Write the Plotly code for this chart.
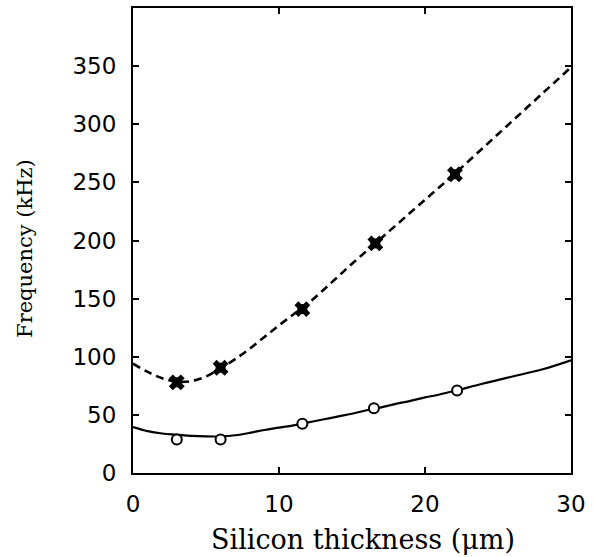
import plotly.graph_objects as go

# Measured resonant frequencies (kHz) vs silicon thickness (um)
mode2_thk = [3.0, 6.0, 11.6, 16.6, 22.05]
mode2_freq = [78, 90.5, 141, 197.5, 257]
mode1_thk = [3.0, 6.0, 11.6, 16.5, 22.2]
mode1_freq = [28.8, 28.8, 42.4, 55.7, 70.9]

# Model curves
curve_thk = [0, 1, 2, 3, 4, 5, 6, 7, 8, 9, 10, 11, 12, 13, 14, 15, 16, 17, 18,
             19, 20, 21, 22, 24, 26, 28, 30]
mode2_curve = [94, 87, 81.5, 78.5, 79, 83, 90, 98, 107, 117, 127, 136.5, 146,
               157, 168.5, 180, 191, 202, 213, 224, 235, 246, 257, 280, 303,
               326, 349]
mode1_curve = [39.5, 36, 34, 33, 32, 31.5, 31.5, 32.5, 34.5, 37, 39, 41, 43.5,
               46, 48.5, 51, 54, 56.5, 59.5, 62, 65, 67.5, 70.5, 77, 83, 89, 97]

x_ticks = [0, 10, 20, 30]
y_ticks = [0, 50, 100, 150, 200, 250, 300, 350]

fig = go.Figure()

fig.add_trace(go.Scatter(
    x=curve_thk, y=mode2_curve, mode="lines",
    line=dict(color="black", width=2.6, dash="8px,5px", shape="spline"),
    hoverinfo="skip"))
fig.add_trace(go.Scatter(
    x=curve_thk, y=mode1_curve, mode="lines",
    line=dict(color="black", width=2.2, shape="spline"),
    hoverinfo="skip"))

fig.add_trace(go.Scatter(
    x=mode2_thk, y=mode2_freq, mode="markers",
    marker=dict(symbol="square", size=10, color="black")))
fig.add_trace(go.Scatter(
    x=mode2_thk, y=mode2_freq, mode="markers",
    marker=dict(symbol="x", size=14, color="black",
                line=dict(width=0))))
fig.add_trace(go.Scatter(
    x=mode1_thk, y=mode1_freq, mode="markers",
    marker=dict(symbol="circle", size=10, color="white",
                line=dict(color="black", width=2))))

axis_common = dict(
    showline=True, linecolor="black", linewidth=2, mirror="ticks",
    ticks="inside", ticklen=6, tickwidth=1.5, tickcolor="black",
    showgrid=False, zeroline=False,
    tickfont=dict(family="DejaVu Sans", size=23, color="black"),
)

fig.update_xaxes(range=[0, 30], tickvals=x_ticks, ticklabelstandoff=9,
                 **axis_common)
fig.update_yaxes(range=[0, 400], tickvals=y_ticks, ticklabelstandoff=10,
                 **axis_common)

fig.add_annotation(
    text="Silicon thickness (μm)", xref="paper", yref="paper",
    x=0.525, y=-0.1435, xanchor="center", yanchor="middle", showarrow=False,
    font=dict(family="DejaVu Serif", size=27, color="black"))
fig.add_annotation(
    text="Frequency (kHz)", xref="paper", yref="paper",
    x=-0.2466, y=0.484, xanchor="center", yanchor="middle", showarrow=False,
    textangle=-90,
    font=dict(family="DejaVu Serif", size=21, color="black"))

fig.update_layout(
    width=593, height=557,
    margin=dict(l=133, r=22, t=6, b=84),
    paper_bgcolor="white", plot_bgcolor="white",
    showlegend=False,
)

fig.write_html("out.html")
